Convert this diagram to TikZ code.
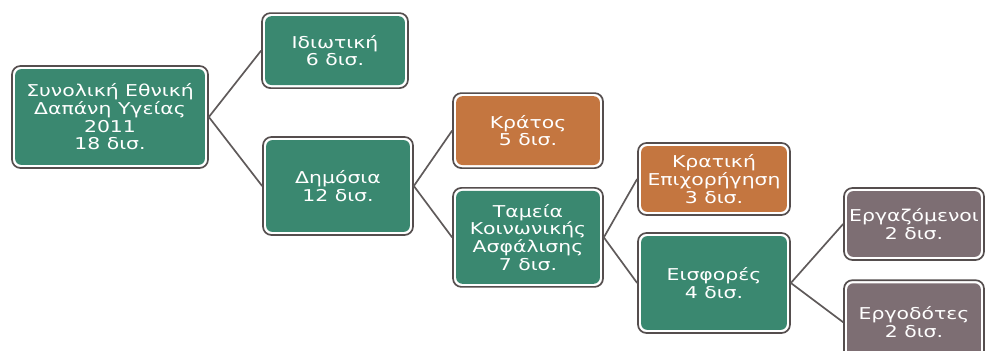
\documentclass[tikz,border=0pt]{standalone}
\usepackage{fontspec}
\newfontfamily\boxfont[FakeStretch=1.25]{DejaVu Sans}
\definecolor{boxgreen}{RGB}{58,136,112}
\definecolor{boxorange}{RGB}{196,118,64}
\definecolor{boxgray}{RGB}{125,110,115}
\definecolor{edgegray}{RGB}{85,78,78}
\definecolor{linegray}{RGB}{95,90,90}
\tikzset{
  box/.style={draw=edgegray, line width=1.2pt, fill=white, rounded corners=6pt,
    align=center, text=white, font=\boxfont\fontsize{11.6}{12.6}\selectfont, inner sep=2pt,
    path picture={\fill[#1, rounded corners=4.5pt]
      ([shift={(2.2pt,2.2pt)}]path picture bounding box.south west) rectangle
      ([shift={(-2.2pt,-2.2pt)}]path picture bounding box.north east);}},
  link/.style={draw=linegray, line width=1.2pt}
}
\begin{document}
\begin{tikzpicture}

\useasboundingbox (0,0) rectangle (24.65,8.775);

\node[box=boxgreen, minimum width=4.9cm, minimum height=2.55cm] (total) at (2.75,5.85) {Συνολική Εθνική\\Δαπάνη Υγείας\\2011\\18 δισ.};
\node[box=boxgreen, minimum width=3.65cm, minimum height=1.875cm] (private) at (8.375,7.51) {Ιδιωτική\\6 δισ.};
\node[box=boxgreen, minimum width=3.75cm, minimum height=2.45cm] (public) at (8.45,4.125) {Δημόσια\\12 δισ.};

\node[box=boxorange, minimum width=3.75cm, minimum height=1.875cm] (state) at (13.2,5.51) {Κράτος\\5 δισ.};
\node[box=boxgreen, minimum width=3.75cm, minimum height=2.475cm] (funds) at (13.2,2.84) {Ταμεία\\Κοινωνικής\\Ασφάλισης\\7 δισ.};

\node[box=boxorange, minimum width=3.8cm, minimum height=1.8cm] (grant) at (17.85,4.3) {Κρατική\\Επιχορήγηση\\3 δισ.};
\node[box=boxgreen, minimum width=3.8cm, minimum height=2.5cm] (contrib) at (17.85,1.7) {Εισφορές\\4 δισ.};

\node[box=boxgray, minimum width=3.5cm, minimum height=1.8cm] (workers) at (22.85,3.175) {Εργαζόμενοι\\2 δισ.};
\node[box=boxgray, minimum width=3.5cm, minimum height=2.1cm] (employers) at (22.85,0.72) {Εργοδότες\\2 δισ.};

\draw[link] (total.east) -- (private.west);
\draw[link] (total.east) -- (public.west);
\draw[link] (public.east) -- (state.west);
\draw[link] (public.east) -- (funds.west);
\draw[link] (funds.east) -- (grant.west);
\draw[link] (funds.east) -- (contrib.west);
\draw[link] (contrib.east) -- (workers.west);
\draw[link] (contrib.east) -- (employers.west);

\end{tikzpicture}
\end{document}
